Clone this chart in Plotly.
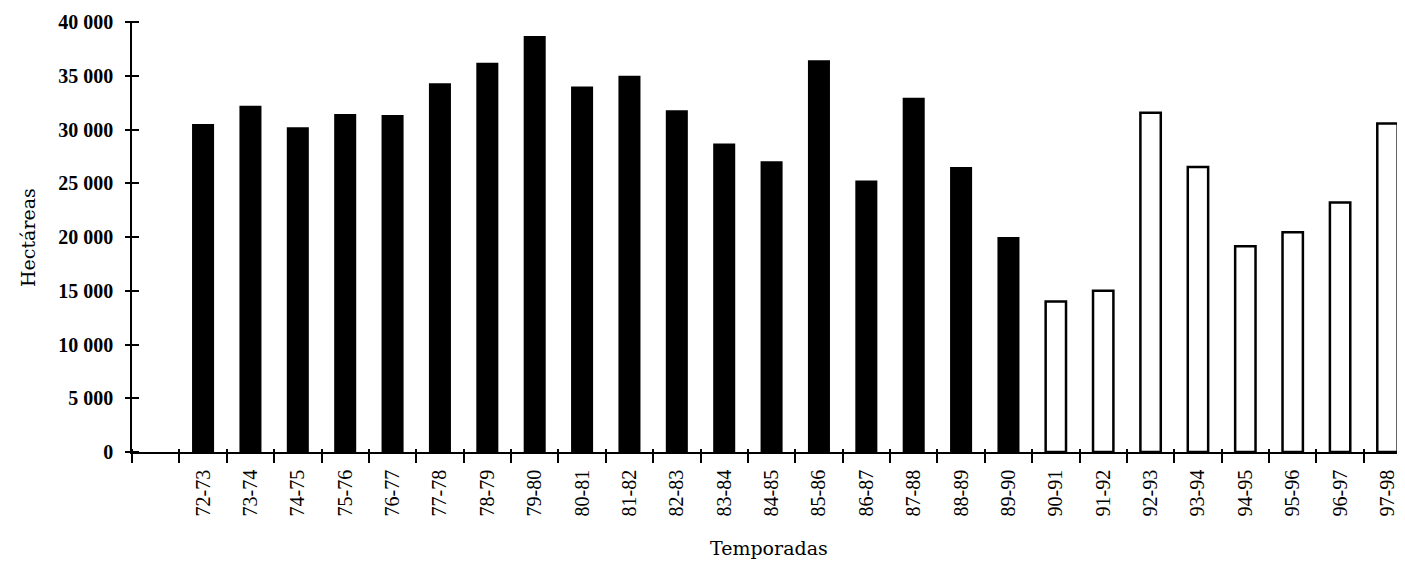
import plotly.graph_objects as go

# Seasons (temporadas) and cultivated area (hectáreas)
seasons_a = ["72-73", "73-74", "74-75", "75-76", "76-77", "77-78", "78-79", "79-80",
             "80-81", "81-82", "82-83", "83-84", "84-85", "85-86", "86-87", "87-88",
             "88-89", "89-90"]
values_a = [30500, 32200, 30200, 31450, 31350, 34300, 36200, 38700,
            34000, 35000, 31800, 28700, 27050, 36450, 25250, 32950,
            26500, 20000]

seasons_b = ["90-91", "91-92", "92-93", "93-94", "94-95", "95-96", "96-97", "97-98"]
values_b = [14000, 15000, 31550, 26500, 19150, 20450, 23200, 30550]

all_seasons = seasons_a + seasons_b
y_ticks = [0, 5000, 10000, 15000, 20000, 25000, 30000, 35000, 40000]

x_range = [-1.5, len(all_seasons) - 0.63]
y_range = [0, 40000]
boundaries = [i - 0.5 for i in range(-1, len(all_seasons))]

fig = go.Figure()
fig.add_trace(go.Bar(x=seasons_a, y=values_a, width=0.465,
                     marker=dict(color="black", line=dict(width=0)),
                     showlegend=False))
fig.add_trace(go.Bar(x=seasons_b, y=values_b, width=0.43,
                     marker=dict(color="white", line=dict(color="black", width=2.5)),
                     showlegend=False))
# empty helper trace so that the tick-only axes are drawn
fig.add_trace(go.Scatter(x=[None], y=[None], xaxis="x2", yaxis="y2", showlegend=False,
                         hoverinfo="skip", mode="markers"))

fig.update_layout(
    width=1397, height=555,
    margin=dict(l=124, r=0, t=14, b=111),
    paper_bgcolor="white", plot_bgcolor="white",
    barmode="overlay",
    separators=", ",
    font=dict(family="Liberation Serif", color="black", size=20),
    xaxis=dict(type="category", categoryorder="array", categoryarray=all_seasons,
               range=x_range, autorange=False,
               showline=True, linecolor="black", linewidth=1.5,
               ticks="", tickangle=-90, ticklabelstandoff=8,
               tickfont=dict(family="Liberation Serif", size=20),
               showgrid=False, zeroline=False),
    xaxis2=dict(overlaying="x", anchor="free", position=0.0095, type="linear",
                range=x_range, autorange=False,
                tickmode="array", tickvals=boundaries, showticklabels=False,
                ticks="outside", ticklen=14, tickwidth=1.5, tickcolor="black",
                showgrid=False, zeroline=False, showline=False),
    yaxis=dict(range=y_range, autorange=False, tickmode="array", tickvals=y_ticks,
               tickformat=",", showline=True, linecolor="black", linewidth=1.5,
               ticks="", ticklabelstandoff=13,
               tickfont=dict(family="Liberation Serif", size=20, weight="bold"),
               showgrid=False, zeroline=False),
    yaxis2=dict(overlaying="y", anchor="free", position=0.0055, side="left",
                range=y_range, autorange=False,
                tickmode="array", tickvals=y_ticks, showticklabels=False,
                ticks="outside", ticklen=14, tickwidth=1.5, tickcolor="black",
                showgrid=False, zeroline=False, showline=False),
    annotations=[
        dict(text="Hectáreas", xref="paper", yref="paper", x=-0.0817, y=0.5,
             textangle=-90, showarrow=False, xanchor="center", yanchor="middle",
             font=dict(family="DejaVu Serif", size=19)),
        dict(text="Temporadas", xref="paper", yref="paper", x=0.5, y=-0.2233,
             showarrow=False, xanchor="center", yanchor="middle",
             font=dict(family="DejaVu Serif", size=19)),
    ],
)

fig.write_html("out.html")
